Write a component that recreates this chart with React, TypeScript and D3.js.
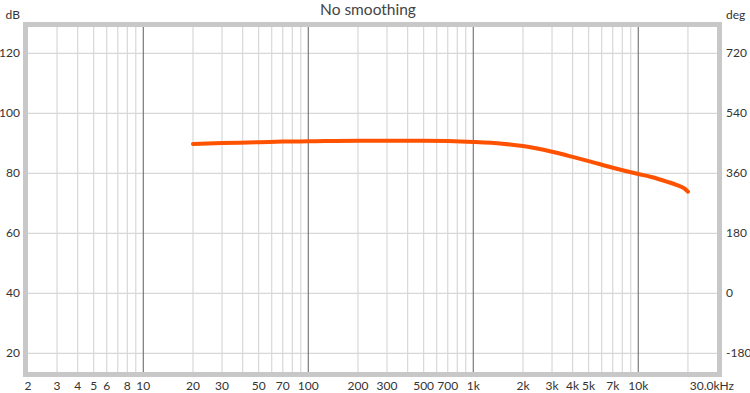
import React, { useRef, useEffect } from 'react';
import * as d3 from 'd3';

// Frequency response (dB)
const freqs = [20, 30, 50, 70, 100, 200, 300, 500, 700, 1000, 1500, 2000, 3000, 4000, 5000, 7000, 10000, 12000, 15000, 17000, 19000, 20000];
const levels = [89.8, 90.1, 90.4, 90.6, 90.7, 90.9, 90.9, 90.9, 90.8, 90.5, 89.9, 89.1, 87.2, 85.5, 84.1, 81.9, 79.8, 78.8, 77.2, 76.2, 75.0, 73.9];

const dbTicks = [20, 40, 60, 80, 100, 120];
const degTicks = [-180, 0, 180, 360, 540, 720];
const freqLabels = [2, 3, 4, 5, 6, 8, 10, 20, 30, 50, 70, 100, 200, 300, 500, 700, 1000, 2000, 3000, 4000, 5000, 7000, 10000, 30000];
const decades = [10, 100, 1000, 10000];

const fmtFreq = (f: number) => {
  if (f === 30000) return '30.0kHz';
  return f >= 1000 ? `${f / 1000}k` : `${f}`;
};

const App = () => {
  const svgRef = useRef<SVGSVGElement | null>(null);
  const width = 750;
  const height = 393;

  useEffect(() => {
    if (!svgRef.current) return;
    const svg = d3.select(svgRef.current);
    svg.selectAll('*').remove();

    const left = 28, right = 717, top = 27, bottom = 372;
    const font = 'Lato, "DejaVu Sans", sans-serif';

    const x = d3.scaleLog().domain([2, 30000]).range([left, right]);
    const y = d3.scaleLinear().domain([13.8, 128.8]).range([bottom, top]);

    // minor vertical grid
    const minor: number[] = [];
    [1, 10, 100, 1000, 10000].forEach(d => {
      for (let k = 2; k <= 9; k++) {
        const f = d * k;
        if (f > 2 && f < 30000) minor.push(f);
      }
    });

    const grid = svg.append('g');
    grid.selectAll('.hgrid')
      .data(dbTicks)
      .enter()
      .append('line')
      .attr('x1', left).attr('x2', right)
      .attr('y1', d => y(d)).attr('y2', d => y(d))
      .attr('stroke', '#d8d8d8').attr('stroke-width', 1.2);

    grid.selectAll('.vgrid')
      .data(minor)
      .enter()
      .append('line')
      .attr('x1', d => x(d)).attr('x2', d => x(d))
      .attr('y1', top).attr('y2', bottom)
      .attr('stroke', '#d8d8d8').attr('stroke-width', 1.2);

    grid.selectAll('.decade')
      .data(decades)
      .enter()
      .append('line')
      .attr('x1', d => x(d)).attr('x2', d => x(d))
      .attr('y1', top).attr('y2', bottom)
      .attr('stroke', '#7a7a7a').attr('stroke-width', 1.2);

    // frame
    svg.append('rect')
      .attr('x', left - 2.5).attr('y', top - 2.5)
      .attr('width', right - left + 5).attr('height', bottom - top + 5)
      .attr('fill', 'none').attr('stroke', '#c8c8c8').attr('stroke-width', 5);

    // curve
    const line = d3.line<number>()
      .x((_, i) => x(freqs[i]))
      .y(d => y(d))
      .curve(d3.curveMonotoneX);

    svg.append('path')
      .datum(levels)
      .attr('d', line)
      .attr('fill', 'none')
      .attr('stroke', '#ff5200')
      .attr('stroke-width', 4)
      .attr('stroke-linecap', 'round');

    // labels
    const txt = svg.append('g')
      .attr('font-family', font)
      .attr('font-size', 12)
      .attr('fill', '#333');

    txt.selectAll('.ly')
      .data(dbTicks)
      .enter()
      .append('text')
      .attr('x', 20).attr('y', d => y(d) + 4)
      .attr('text-anchor', 'end')
      .text(d => d);

    txt.selectAll('.ry')
      .data(degTicks)
      .enter()
      .append('text')
      .attr('x', 726).attr('y', d => y(d / 9 + 40) + 4)
      .attr('text-anchor', 'start')
      .text(d => d);

    txt.selectAll('.lx')
      .data(freqLabels)
      .enter()
      .append('text')
      .attr('x', d => (d === 30000 ? x(d) + 17 : x(d)))
      .attr('y', 390)
      .attr('text-anchor', d => (d === 30000 ? 'end' : 'middle'))
      .text(d => fmtFreq(d));

    txt.append('text').attr('x', 20).attr('y', 19).attr('text-anchor', 'end').text('dB');
    txt.append('text').attr('x', 726).attr('y', 19).attr('text-anchor', 'start').text('deg');

    svg.append('text')
      .attr('x', 368).attr('y', 15)
      .attr('text-anchor', 'middle')
      .attr('font-family', font)
      .attr('font-size', 15.5)
      .attr('fill', '#444')
      .text('No smoothing');
  }, []);

  return (
    <svg
      ref={svgRef}
      width={width}
      height={height}
      style={{ position: 'absolute', left: 0, top: 0, background: '#fff' }}
    />
  );
};

export default App;
